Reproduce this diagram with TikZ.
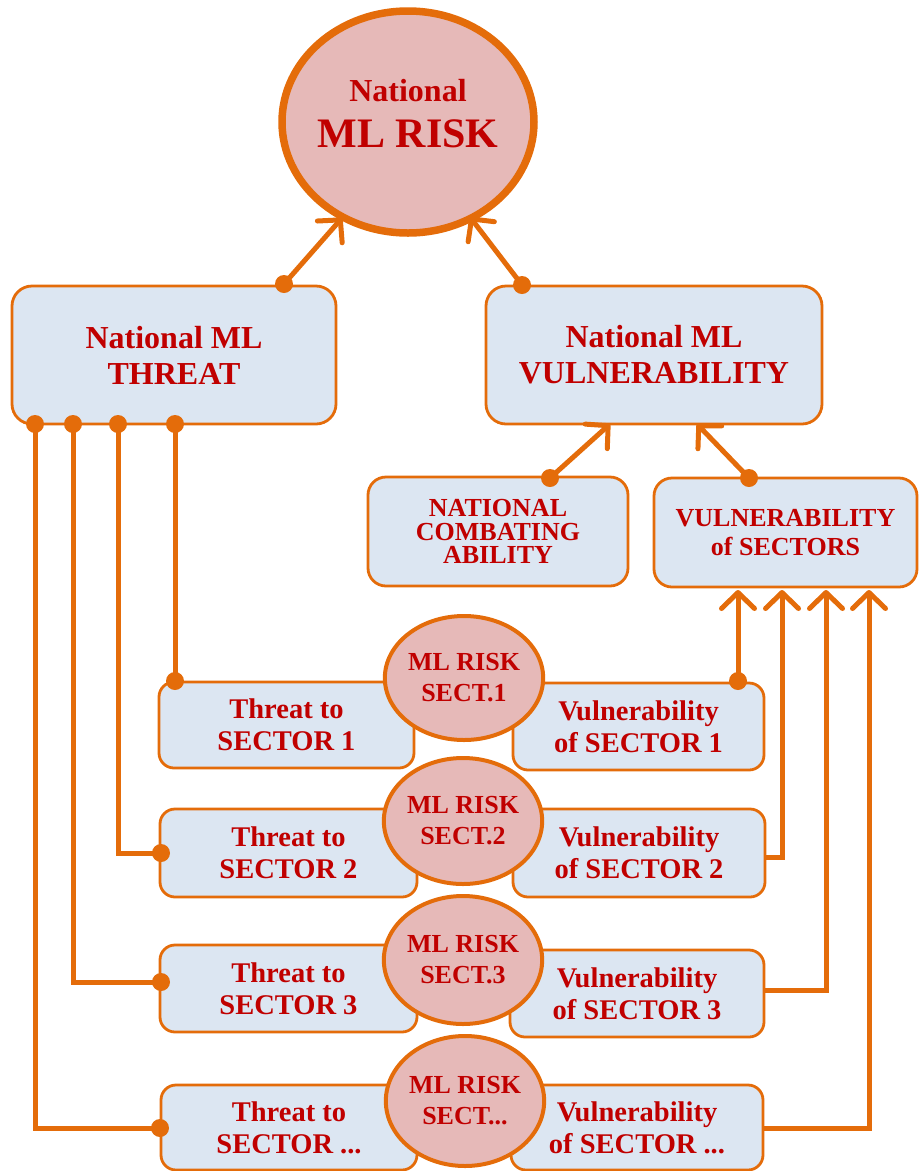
\documentclass[tikz,border=0pt]{standalone}
\usepackage{fontspec}
\setmainfont{Liberation Serif}
\usetikzlibrary{arrows.meta,shapes.geometric}
\definecolor{orl}{HTML}{E46C0A}
\definecolor{boxfill}{HTML}{DCE6F2}
\definecolor{cfill}{HTML}{E6B9B8}
\definecolor{txt}{HTML}{C00000}
\tikzset{
 conn/.style={draw=orl, line width=5pt},
 arr/.style={-{Straight Barb[length=16pt,width=33pt,round]}},
 dot/.style={circle, fill=orl, inner sep=0pt, minimum size=18pt},
 box/.style={draw=orl, line width=2.8pt, fill=boxfill, rounded corners=20pt, align=center, text=txt, inner sep=0pt},
 bigbox/.style={box, font=\fontsize{32}{36}\selectfont\bfseries},
 midbox/.style={box, rounded corners=18pt, font=\fontsize{26}{23.5}\selectfont\bfseries},
 sbox/.style={box, rounded corners=15pt, font=\fontsize{28.5}{32}\selectfont\bfseries},
 scirc/.style={ellipse, draw=orl, line width=4pt, fill=cfill, inner sep=0pt, align=center, text=txt, font=\fontsize{26}{31}\selectfont\bfseries},
}
\begin{document}
\begin{tikzpicture}[x=1pt,y=-1pt]
\useasboundingbox (0,0) rectangle (920,1171);

% top risk circle
\node[ellipse, draw=orl, line width=7.5pt, fill=cfill, minimum width=252, minimum height=222] (risk) at (408,122) {};
\node[text=txt, align=center, font=\fontsize{42}{46}\selectfont\bfseries, inner sep=0pt] (risktxt) at (408,114) {{\fontsize{32}{36}\selectfont National}\\ML RISK};

% main boxes
\node[bigbox, minimum width=324, minimum height=138] (thr) at (174,355) {National ML\\THREAT};
\node[bigbox, minimum width=336, minimum height=138] (vul) at (654,355) {National ML\\VULNERABILITY};
\node[midbox, minimum width=260, minimum height=109] (nca) at (498,531.5) {NATIONAL\\COMBATING\\ABILITY};
\node[midbox, font=\fontsize{26}{29}\selectfont\bfseries, minimum width=263, minimum height=109] (vsec) at (785.5,532.5) {VULNERABILITY\\of SECTORS};

% sector boxes
\node[sbox, minimum width=255, minimum height=86] (t1) at (286.5,725) {Threat to\\SECTOR 1};
\node[sbox, minimum width=251, minimum height=87] (v1) at (638.5,726.5) {Vulnerability\\of SECTOR 1};
\node[sbox, minimum width=257, minimum height=88] (t2) at (288.5,853) {Threat to\\SECTOR 2};
\node[sbox, minimum width=252, minimum height=88] (v2) at (639,853) {Vulnerability\\of SECTOR 2};
\node[sbox, minimum width=257, minimum height=87] (t3) at (288.5,988.5) {Threat to\\SECTOR 3};
\node[sbox, minimum width=254, minimum height=87] (v3) at (637,993.5) {Vulnerability\\of SECTOR 3};
\node[sbox, minimum width=256, minimum height=85] (t4) at (289,1127.5) {Threat to\\SECTOR ...};
\node[sbox, minimum width=252, minimum height=85] (v4) at (637,1127.5) {Vulnerability\\of SECTOR ...};

% sector circles
\node[scirc, minimum width=140, minimum height=124] (c1) at (464,678) {ML RISK\\SECT.1};
\node[scirc, minimum width=140, minimum height=126] (c2) at (463,821) {ML RISK\\SECT.2};
\node[scirc, minimum width=140, minimum height=128] (c3) at (463,960) {ML RISK\\SECT.3};
\node[scirc, minimum width=136, minimum height=130] (c4) at (465,1101) {ML RISK\\SECT...};

% dots
\node[dot] (dthr) at (284,284) {};
\node[dot] (dvul) at (522,285) {};
\node[dot] (dnca) at (550,478) {};
\node[dot] (dvs) at (749,478) {};
\node[dot] (b1) at (35,424) {};
\node[dot] (b2) at (73,424) {};
\node[dot] (b3) at (118,424) {};
\node[dot] (b4) at (175,424) {};
\node[dot] (dt1) at (175,681) {};
\node[dot] (dt2) at (161,853) {};
\node[dot] (dt3) at (161,982) {};
\node[dot] (dt4) at (160,1128) {};
\node[dot] (dv1) at (738,681) {};

% arrow targets and free ends
\coordinate (rA) at (342,218);
\coordinate (rB) at (470,217);
\coordinate (vA) at (610,424);
\coordinate (vB) at (697,424);
\coordinate (s1) at (738,590);
\coordinate (s2) at (782,590);
\coordinate (s3) at (826,590);
\coordinate (s4) at (869,590);
\coordinate (e2) at (765,857);
\coordinate (e3) at (764,990);
\coordinate (e4) at (763,1128);

% connectors
\draw[conn, arr] (dthr.center) -- (rA);
\draw[conn, arr] (dvul.center) -- (rB);
\draw[conn, arr] (dnca.center) -- (vA);
\draw[conn, arr] (dvs.center) -- (vB);

\draw[conn] (b4.center) -- (dt1.center);
\draw[conn] (b3.center) |- (dt2.center);
\draw[conn] (b2.center) |- (dt3.center);
\draw[conn] (b1.center) |- (dt4.center);

\draw[conn, arr] (dv1.center) -- (s1);
\draw[conn, arr] (e2) -| (s2);
\draw[conn, arr] (e3) -| (s3);
\draw[conn, arr] (e4) -| (s4);
\end{tikzpicture}
\end{document}
